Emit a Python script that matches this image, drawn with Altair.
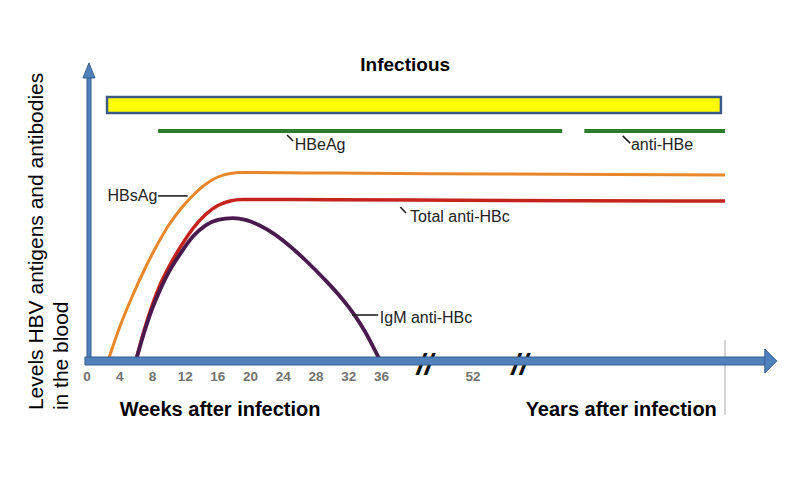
import altair as alt
import pandas as pd

# ---- data (x in weeks on the drawn scale, y in relative level 0-100) ----
hbsag_x = [2.6, 4.0, 5.5, 7.0, 8.5, 10.0, 11.5, 13.0, 14.5, 16.0, 17.5, 19.0, 30, 50, 78]
hbsag_y = [0, 11, 21, 30, 38, 45, 50.5, 55, 58.6, 61, 62.2, 62.5, 62.3, 62.0, 61.7]

anti_hbc_x = [6.0, 7.0, 8.0, 9.0, 10.0, 11.5, 13.0, 14.5, 16.0, 17.5, 19.0, 21.0, 40, 60, 78]
anti_hbc_y = [0, 10, 18.5, 25.5, 31, 38, 44, 48.5, 51.5, 53, 53.5, 53.5, 53.3, 53.1, 53.0]

igm_x = [6.0, 7.0, 8.0, 9.0, 10.0, 11.5, 13.0, 14.5, 16.0, 17.8, 19.5, 21.0, 23.0, 25.0,
         27.0, 29.0, 31.0, 32.0, 33.0, 34.0, 35.0, 35.8]
igm_y = [0, 9.3, 17.3, 23.8, 29.3, 35.8, 41.3, 44.9, 46.7, 47.3, 46.6, 45.0, 41.8, 37.5,
         32.5, 27.0, 21.0, 17.6, 13.8, 9.4, 4.3, 0]

hbeag_x = [8.7, 58.1]
anti_hbe_x = [60.8, 78.0]
green_y = 76.3

infectious_x = [2.45, 77.5]
infectious_y = [82.3, 87.7]

tick_labels = ["0", "4", "8", "12", "16", "20", "24", "28", "32", "36", "52"]
tick_pos = [0, 4, 8, 12, 16, 20, 24, 28, 32, 36, 47.2]
break_pos = [41.3, 52.9]

X_DOM = [0, 78]
Y_DOM = [0, 100]

xs = alt.Scale(domain=X_DOM, nice=False, zero=False)
ys = alt.Scale(domain=Y_DOM, nice=False, zero=False)
X = lambda f: alt.X(f, type="quantitative", scale=xs, axis=None)
Y = lambda f: alt.Y(f, type="quantitative", scale=ys, axis=None)

FONT = "Liberation Sans"


def curve(xv, yv, color, width):
    df = pd.DataFrame({"x": xv, "y": yv})
    return alt.Chart(df).mark_line(
        color=color, strokeWidth=width, interpolate="monotone", strokeCap="butt"
    ).encode(x=X("x"), y=Y("y"), order="x:Q")


# border of the embedded figure
border = alt.Chart(pd.DataFrame({"x": [78.0], "y": [6.7], "y2": [-18.3]})).mark_rule(
    color="#aaaaaa", strokeWidth=1
).encode(x=X("x"), y=Y("y"), y2="y2")

l_hbsag = curve(hbsag_x, hbsag_y, "#e8862a", 3)
l_hbc = curve(anti_hbc_x, anti_hbc_y, "#c4241c", 3.5)
l_igm = curve(igm_x, igm_y, "#4a1a4f", 3.8)

green_df = pd.DataFrame({
    "x": [hbeag_x[0], anti_hbe_x[0]],
    "x2": [hbeag_x[1], anti_hbe_x[1]],
    "y": [green_y, green_y],
})
greens = alt.Chart(green_df).mark_rule(color="#2b7d2b", strokeWidth=4).encode(
    x=X("x"), x2="x2", y=Y("y")
)

yellow = alt.Chart(pd.DataFrame({
    "x": [infectious_x[0]], "x2": [infectious_x[1]],
    "y": [infectious_y[0]], "y2": [infectious_y[1]],
})).mark_rect(fill="#ffff00", stroke="#3c5a87", strokeWidth=2.5).encode(
    x=X("x"), x2="x2", y=Y("y"), y2="y2"
)

# leader lines for labels
leaders_df = pd.DataFrame({
    "x": [8.68, 32.4, 38.3, 24.45, 65.5],
    "x2": [12.3, 35.6, 39.0, 25.2, 66.4],
    "y": [54.7, 15.0, 51.0, 75.0, 74.7],
    "y2": [54.7, 15.0, 49.0, 73.0, 72.3],
})
leaders = alt.Chart(leaders_df).mark_rule(color="#222222", strokeWidth=1.6).encode(
    x=X("x"), x2="x2", y=Y("y"), y2="y2"
)

lab_left_df = pd.DataFrame({
    "t": ["IgM anti-HBc", "Total anti-HBc", "HBeAg", "anti-HBe"],
    "x": [35.8, 39.5, 25.4, 66.5],
    "y": [13.9, 47.6, 71.7, 71.7],
})
lab_left = alt.Chart(lab_left_df).mark_text(
    align="left", baseline="middle", font=FONT, fontSize=16, color="#222222"
).encode(x=X("x"), y=Y("y"), text="t")

lab_right = alt.Chart(pd.DataFrame({"t": ["HBsAg"], "x": [8.6], "y": [54.7]})).mark_text(
    align="right", baseline="middle", font=FONT, fontSize=16, color="#222222"
).encode(x=X("x"), y=Y("y"), text="t")

# tick labels and axis breaks
ticks_df = pd.DataFrame({"t": tick_labels, "x": tick_pos, "y": [-5.8] * len(tick_pos)})
ticks = alt.Chart(ticks_df).mark_text(
    align="center", baseline="middle", font=FONT, fontSize=13.5, fontWeight="bold",
    color="#727272"
).encode(x=X("x"), y=Y("y"), text="t")

breaks = alt.Chart(pd.DataFrame({"x": break_pos, "y": [-2.0, -2.0], "t": ["//", "//"]})).mark_text(
    align="center", baseline="middle", font=FONT, fontSize=30, fontWeight="bold",
    fontStyle="italic", color="#111111"
).encode(x=X("x"), y=Y("y"), text="t")

# titles
title_df = pd.DataFrame({"t": ["Infectious"], "x": [38.9], "y": [98.3]})
title = alt.Chart(title_df).mark_text(
    align="center", baseline="middle", font=FONT, fontSize=19, fontWeight="bold", color="#000000"
).encode(x=X("x"), y=Y("y"), text="t")

xl_left = alt.Chart(pd.DataFrame({"t": ["Weeks after infection"], "x": [4.0], "y": [-16.7]})).mark_text(
    align="left", baseline="middle", font=FONT, fontSize=20, fontWeight="bold", color="#000000"
).encode(x=X("x"), y=Y("y"), text="t")

xl_right = alt.Chart(pd.DataFrame({"t": ["Years after infection"], "x": [77.0], "y": [-16.7]})).mark_text(
    align="right", baseline="middle", font=FONT, fontSize=20, fontWeight="bold", color="#000000"
).encode(x=X("x"), y=Y("y"), text="t")

ytitle_df = pd.DataFrame({
    "t": ["Levels HBV antigens and antibodies", "in the blood"],
    "x": [-6.1, -3.05],
    "y": [-16.7, -16.7],
})
ytitle = alt.Chart(ytitle_df).mark_text(
    align="left", baseline="middle", angle=270, font=FONT, fontSize=21, color="#000000"
).encode(x=X("x"), y=Y("y"), text="t")

# arrows (axes)
ARROW_FILL = "#4f81bd"
ARROW_EDGE = "#385d8a"
y_shaft = alt.Chart(pd.DataFrame({"x": [0.0], "x2": [0.49], "y": [94.5], "y2": [-0.7]})).mark_rect(
    fill=ARROW_FILL, stroke=ARROW_EDGE, strokeWidth=1
).encode(x=X("x"), x2="x2", y=Y("y"), y2="y2")
x_shaft = alt.Chart(pd.DataFrame({"x": [-0.25], "x2": [83.1], "y": [1.0], "y2": [-1.67]})).mark_rect(
    fill=ARROW_FILL, stroke=ARROW_EDGE, strokeWidth=1
).encode(x=X("x"), x2="x2", y=Y("y"), y2="y2")
y_head = alt.Chart(pd.DataFrame({"x": [0.24], "y": [96.5]})).mark_point(
    shape="M-0.8,1L0,-1L0.8,1Z", size=225, filled=True, fill=ARROW_FILL,
    stroke=ARROW_EDGE, strokeWidth=1, opacity=1
).encode(x=X("x"), y=Y("y"))
x_head = alt.Chart(pd.DataFrame({"x": [83.6], "y": [-0.33]})).mark_point(
    shape="M-0.5,-1L0.5,0L-0.5,1Z", size=576, filled=True, fill=ARROW_FILL,
    stroke=ARROW_EDGE, strokeWidth=1, opacity=1
).encode(x=X("x"), y=Y("y"))

chart = alt.layer(
    border, greens, yellow, l_hbsag, l_hbc, l_igm, leaders, lab_left, lab_right,
    ticks, breaks, title, xl_left, xl_right, ytitle,
    y_shaft, x_shaft, y_head, x_head,
).properties(
    width=638, height=300,
    autosize=alt.AutoSizeParams(type="none"),
    padding={"left": 79, "top": 52, "right": 69, "bottom": 128},
    background="white",
).configure_view(stroke=None)

chart.save("out.html", embed_options={"renderer": "svg", "actions": False})
